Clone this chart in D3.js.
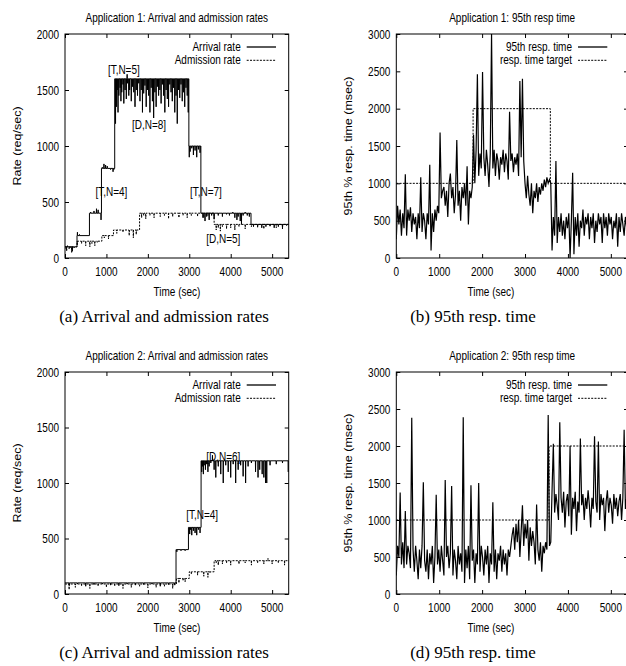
<!DOCTYPE html>
<html><head><meta charset="utf-8">
<script src="https://cdn.jsdelivr.net/npm/d3@7"></script>
<style>body{margin:0;background:#fff}svg{display:block}</style>
</head><body>
<svg id="chart" width="626" height="666"></svg>
<script>
// ---------- DATA ----------
const xTicks = [0, 1000, 2000, 3000, 4000, 5000];
const rateTicks = [0, 500, 1000, 1500, 2000];
const respTicks = [0, 500, 1000, 1500, 2000, 2500, 3000];
const timeEnd = 5400;

// App 1 arrival rate: step levels [time, rate] and short deviations [time, rate]
const app1ArrivalSteps = [[0,100],[290,200],[590,400],[880,800],[1200,1600],[2990,1000],[3280,400],[4490,300]];
const app1ArrivalDips = [
 [30,80],[60,110],[120,90],[180,60],[230,100],[300,230],[350,210],
 [620,410],[700,420],[760,440],[800,430],[850,400],[870,340],
 [900,810],[940,840],[980,830],[1020,820],[1100,790],[1160,770],[1180,790],
 [1220,1200],[1240,1350],[1260,1500],[1280,1300],[1300,1450],[1330,1520],[1350,1400],[1370,1480],[1400,1550],
 [1420,1380],[1450,1500],[1480,1420],[1500,1640],[1510,1560],[1540,1450],[1560,1500],[1600,1400],[1630,1530],
 [1660,1480],[1690,1350],[1720,1500],[1750,1450],[1780,1560],[1810,1400],[1840,1500],[1870,1300],[1900,1470],
 [1930,1540],[1960,1350],[1990,1500],[2020,1450],[2050,1300],[2080,1520],[2110,1400],[2140,1250],[2170,1480],
 [2200,1350],[2230,1530],[2260,1450],[2290,1500],[2320,1380],[2350,1550],[2380,1450],[2410,1300],[2440,1500],
 [2470,1420],[2500,1350],[2530,1550],[2560,1480],[2590,1400],[2620,1520],[2650,1300],[2680,1450],[2710,1200],
 [2740,1500],[2770,1430],[2800,1550],[2830,1400],[2860,1480],[2890,1350],[2920,1520],[2950,1450],[2975,1300],
 [3000,900],[3020,950],[3060,980],[3100,920],[3140,960],[3180,900],[3220,970],[3260,940],
 [3330,360],[3380,330],[3420,370],[3480,340],[3540,380],[3600,350],[3700,380],[3800,370],[3900,390],[3970,380],
 [4050,410],[4100,360],[4150,340],[4180,370],[4230,330],[4260,300],[4300,380],[4350,410],[4400,380],[4450,370],
 [4550,280],[4650,290],[4750,270],[4850,280],[4950,290],[5050,270],[5150,280],[5250,270],[5350,290]
];
const app1AdmissionSteps = [[0,100],[290,150],[890,200],[1170,250],[1800,400],[3600,300]];
const app1AdmissionDips = [
 [40,60],[100,80],[160,50],[220,90],
 [300,120],[400,130],[500,110],[600,100],[650,130],[720,110],[780,140],
 [950,180],[1050,170],
 [1250,220],[1400,230],[1550,200],[1650,180],[1720,210],
 [1850,360],[1900,380],[1950,350],[2050,380],[2150,360],[2300,370],[2400,380],[2500,350],[2600,370],
 [2750,360],[2850,380],[2950,360],[3050,380],[3200,370],[3350,360],[3450,380],
 [3650,250],[3700,270],[3750,240],[3800,280],[3900,260],[4000,270],[4100,250],[4200,280],[4350,260],
 [4500,280],[4650,270],[4800,260],[4950,280],[5100,270],[5250,260]
];

// App 1 95th percentile response time [time, msec]
const app1Resp = [
 [0,250],[30,700],[60,450],[90,650],[120,300],[150,600],[180,400],[210,1120],[240,300],[270,650],
 [300,500],[330,680],[360,350],[390,600],[420,450],[450,550],[480,250],[510,600],[540,400],[570,1080],
 [600,350],[630,600],[660,500],[690,250],[720,600],[750,450],[780,1250],[810,100],[840,600],[870,350],
 [900,650],[930,500],[960,700],[990,600],[1020,1680],[1050,800],[1080,900],[1110,950],[1140,700],[1170,900],
 [1200,550],[1230,1000],[1260,1130],[1290,800],[1320,950],[1350,600],[1380,850],[1410,1580],[1440,700],[1470,900],
 [1500,500],[1530,950],[1560,800],[1590,1000],[1620,700],[1650,1230],[1680,450],[1710,900],[1740,800],[1770,950],
 [1800,1650],[1830,1000],[1860,1450],[1890,2460],[1920,1100],[1950,1400],[1980,1200],[2010,2490],[2040,1350],[2070,1100],
 [2100,1450],[2130,1250],[2160,950],[2190,1400],[2220,3000],[2250,1200],[2280,1450],[2310,1100],[2340,1400],[2370,1300],
 [2400,1050],[2430,1350],[2460,1250],[2490,1450],[2520,1150],[2550,1400],[2580,1300],[2610,1050],[2640,1960],[2670,1300],
 [2700,1400],[2730,1150],[2760,1350],[2790,1250],[2820,1400],[2850,1100],[2880,2370],[2910,1350],[2940,2400],[2970,1300],
 [3000,1000],[3030,800],[3060,1100],[3090,850],[3120,700],[3150,1000],[3180,600],[3210,900],[3240,800],[3270,1000],
 [3300,750],[3330,950],[3360,850],[3390,1000],[3420,900],[3450,1050],[3480,950],[3510,1080],[3540,1000],[3570,1050],
 [3600,1000],[3630,100],[3660,550],[3690,300],[3720,1300],[3750,200],[3780,550],[3810,350],[3840,600],[3870,300],
 [3900,500],[3930,250],[3960,550],[3990,400],[4020,600],[4050,0],[4080,500],[4110,1140],[4140,50],[4170,550],
 [4200,300],[4230,600],[4260,150],[4290,500],[4320,400],[4350,650],[4380,300],[4410,550],[4440,450],[4470,600],
 [4500,250],[4530,550],[4560,400],[4590,600],[4620,200],[4650,500],[4680,350],[4710,600],[4740,450],[4770,550],
 [4800,200],[4830,600],[4860,400],[4890,550],[4920,300],[4950,600],[4980,450],[5010,550],[5040,250],[5070,500],
 [5100,400],[5130,600],[5160,150],[5190,550],[5220,350],[5250,600],[5280,450],[5310,300],[5340,550],[5370,400],[5400,500]
];
const app1TargetSteps = [[0,1000],[1790,2000],[3590,1000]];

// App 2 arrival / admission
const app2ArrivalSteps = [[0,100],[2680,400],[2980,600],[3285,1200]];
const app2ArrivalDips = [
 [100,80],[300,90],[500,70],[700,85],[900,90],[1100,80],[1300,75],[1500,90],[1700,80],[1900,85],[2100,90],[2300,70],[2500,85],[2650,80],
 [2700,380],[2800,390],[2900,390],
 [3010,540],[3030,580],[3060,530],[3100,570],[3140,550],[3180,530],[3220,580],[3260,550],
 [3300,1100],[3320,1150],[3340,1080],[3360,1160],[3390,1120],[3420,1170],[3450,1100],[3480,1150],[3520,1180],[3560,1250],
 [3600,1120],[3640,1050],[3700,1150],[3760,1080],[3820,1000],[3880,1160],[3940,1100],[4000,1050],[4060,1170],[4120,1000],
 [4180,1120],[4240,1160],[4300,1060],[4360,1000],[4420,1150],[4500,1180],[4600,1100],[4660,1050],[4700,1120],[4760,1080],
 [4800,1050],[4840,1000],[4870,1000],[4950,1160],[5100,1170],[5250,1180],[5390,1100]
];
const app2AdmissionSteps = [[0,90],[2690,140],[3000,200],[3600,300]];
const app2AdmissionDips = [
 [100,40],[250,60],[400,70],[600,50],[800,70],[1000,60],[1200,70],[1400,50],[1600,60],[1800,70],[2000,55],[2200,60],[2400,70],[2600,50],
 [2750,100],[2850,120],[2900,110],
 [3050,180],[3200,170],[3350,160],[3450,150],[3500,190],
 [3650,280],[3700,260],[3800,270],[3900,280],[4000,260],[4200,270],[4350,280],[4500,260],[4650,280],[4800,270],[4900,320],
 [5000,270],[5150,280],[5300,260]
];

// App 2 95th percentile response time [time, msec]
const app2Resp = [
 [0,250],[30,650],[60,500],[90,1370],[120,400],[150,700],[180,350],[210,1120],[240,400],[270,650],
 [300,550],[330,350],[360,2380],[390,600],[420,300],[450,650],[480,450],[510,200],[540,600],[570,350],
 [600,650],[630,1510],[660,450],[690,300],[720,600],[750,200],[780,550],[810,400],[840,650],[870,150],
 [900,500],[930,1340],[960,400],[990,600],[1020,300],[1050,650],[1080,450],[1110,250],[1140,1540],[1170,500],
 [1200,650],[1230,350],[1260,550],[1290,1460],[1320,250],[1350,600],[1380,450],[1410,200],[1440,650],[1470,400],
 [1500,550],[1530,300],[1560,2390],[1590,150],[1620,600],[1650,350],[1680,650],[1710,200],[1740,1470],[1770,450],
 [1800,600],[1830,150],[1860,550],[1890,400],[1920,1500],[1950,300],[1980,650],[2010,500],[2040,250],[2070,600],
 [2100,400],[2130,650],[2160,150],[2190,550],[2220,400],[2250,1240],[2280,300],[2310,600],[2340,200],[2370,550],
 [2400,450],[2430,650],[2460,300],[2490,600],[2520,400],[2550,550],[2580,250],[2610,600],[2640,500],[2670,650],
 [2700,800],[2730,900],[2760,600],[2790,950],[2820,700],[2850,1000],[2880,500],[2910,850],[2940,1200],[2970,650],
 [3000,950],[3030,750],[3060,1000],[3090,450],[3120,900],[3150,650],[3180,850],[3210,700],[3240,400],[3270,1210],
 [3300,600],[3330,450],[3360,700],[3390,300],[3420,650],[3450,550],[3480,700],[3510,600],[3540,2420],[3570,650],
 [3600,700],[3630,1400],[3660,2030],[3690,1100],[3720,1350],[3750,1200],[3780,1000],[3810,2320],[3840,1300],[3870,1100],
 [3900,1380],[3930,900],[3960,1250],[3990,1350],[4020,1050],[4050,2000],[4080,800],[4110,1300],[4140,1150],[4170,1380],
 [4200,850],[4230,1250],[4260,1100],[4290,2100],[4320,1200],[4350,1350],[4380,1000],[4410,1300],[4440,1150],[4470,1400],
 [4500,1200],[4530,900],[4560,1300],[4590,1150],[4620,2130],[4650,1250],[4680,1100],[4710,2060],[4740,1000],[4770,1350],
 [4800,1200],[4830,1300],[4860,850],[4890,1250],[4920,1400],[4950,1100],[4980,1300],[5010,1200],[5040,950],[5070,1350],
 [5100,1150],[5130,1300],[5160,1050],[5190,1250],[5220,1350],[5250,1000],[5280,1300],[5310,2220],[5340,1150],[5370,1300],[5400,1200]
];
const app2TargetSteps = [[0,1000],[3560,2000]];

// Labels
const titles = ["Application 1: Arrival and admission rates","Application 1: 95th resp time",
                "Application 2: Arrival and admission rates","Application 2: 95th resp time"];
const captions = ["(a) Arrival and admission rates","(b) 95th resp. time","(c) Arrival and admission rates","(d) 95th resp. time"];
const rateLegend = ["Arrival rate","Admission rate"];
const respLegend = ["95th resp. time","resp. time target"];
const app1Notes = [["[T,N=5]",1420,1645],["[D,N=8]",2030,1155],["[T,N=4]",1120,553],["[T,N=7]",3400,553],["[D,N=5]",3820,134]];
const app2Notes = [["[D,N=6]",3820,1195],["[T,N=4]",3310,674]];

// ---------- RENDER ----------
const sans = "'Liberation Sans', Arial, Helvetica, sans-serif";
const serif = "'Liberation Serif', 'Times New Roman', Times, serif";
const svg = d3.select("#chart");

function txt(g, x, y, s, o = {}) {
  const size = o.size || 12.5, sx = o.sx == null ? 0.8 : o.sx;
  return g.append("text")
    .attr("transform", `translate(${x},${y})` + (o.rot ? ` rotate(${o.rot}) scale(1,0.85)` : ` scale(${sx},1)`))
    .attr("text-anchor", o.anchor || "middle")
    .style("font-size", size + "px").style("font-family", o.family || sans)
    .attr("fill", "#000").text(s);
}

// build a polyline from step levels plus short deviations
function stepSeries(steps, dips, end) {
  const pts = [];
  steps.forEach((s, i) => {
    const t0 = s[0], v = s[1], t1 = i + 1 < steps.length ? steps[i + 1][0] : end;
    pts.push([t0, v]);
    dips.filter(d => d[0] >= t0 && d[0] < t1).forEach(d => {
      pts.push([d[0] - 4, v], [d[0], d[1]], [d[0] + 4, v]);
    });
    pts.push([t1, v]);
  });
  return pts;
}
function targetSeries(steps, end) {
  const pts = [];
  steps.forEach((s, i) => {
    const t1 = i + 1 < steps.length ? steps[i + 1][0] : end;
    pts.push([s[0], s[1]], [t1, s[1]]);
  });
  return pts;
}

let clipId = 0;
function panel(box, yMax, yTicks, series, title, yLabel, legend, notes, caption, xLabelX, capX, capY) {
  const x = d3.scaleLinear().domain([0, timeEnd]).range([box.l, box.r]);
  const y = d3.scaleLinear().domain([0, yMax]).range([box.b, box.t]);
  const g = svg.append("g");
  const id = "clip" + (clipId++);
  svg.append("clipPath").attr("id", id).append("rect")
    .attr("x", box.l).attr("y", box.t - 1).attr("width", box.r - box.l).attr("height", box.b - box.t + 1);

  // ticks on four sides (inward)
  const tk = 4;
  g.append("g").attr("transform", `translate(${box.l},0)`).call(d3.axisLeft(y).tickValues(yTicks).tickSize(-tk).tickFormat(""));
  g.append("g").attr("transform", `translate(${box.r},0)`).call(d3.axisRight(y).tickValues(yTicks).tickSize(-tk).tickFormat(""));
  g.append("g").attr("transform", `translate(0,${box.b})`).call(d3.axisBottom(x).tickValues(xTicks).tickSize(-tk).tickFormat(""));
  g.append("g").attr("transform", `translate(0,${box.t})`).call(d3.axisTop(x).tickValues(xTicks).tickSize(-tk).tickFormat(""));
  g.selectAll(".domain").remove();
  g.selectAll(".tick line").attr("stroke", "#000").attr("stroke-width", 1);

  // lines
  const line = d3.line().x(d => x(d[0])).y(d => y(d[1]));
  const lg = g.append("g").attr("clip-path", `url(#${id})`);
  series.forEach(s => {
    lg.append("path").attr("d", line(s.pts)).attr("fill", "none").attr("stroke", "#000")
      .attr("stroke-width", s.w).attr("stroke-dasharray", s.dash || null).attr("stroke-linejoin", "miter");
  });

  // border
  g.append("rect").attr("x", box.l).attr("y", box.t).attr("width", box.r - box.l).attr("height", box.b - box.t)
    .attr("fill", "none").attr("stroke", "#000").attr("stroke-width", 1);

  // tick labels
  yTicks.forEach(v => txt(g, box.l - 6, y(v) + 4.5, String(v), { anchor: "end" }));
  xTicks.forEach(v => txt(g, x(v), box.b + 18, String(v)));

  // title, axis labels
  txt(g, (box.l + box.r) / 2, box.t - 12.5, title);
  txt(g, box.l - 44, (box.t + box.b) / 2, yLabel, { rot: -90 });
  txt(g, xLabelX, box.b + 38, "Time (sec)");

  // legend
  legend.forEach((lab, i) => {
    const ly = box.t + 13 + i * 13.3;
    txt(g, box.l + 175.7, ly + 4, lab, { anchor: "end" });
    g.append("line").attr("x1", box.l + 181.7).attr("x2", box.l + 211).attr("y1", ly).attr("y2", ly)
      .attr("stroke", "#000").attr("stroke-width", i === 0 ? 1.3 : 1).attr("stroke-dasharray", i === 0 ? null : "2,1.3");
  });

  // annotations
  notes.forEach(n => txt(g, x(n[1]), y(n[2]), n[0]));

  // caption
  txt(svg, capX, capY, caption, { family: serif, size: 17, sx: 1 });
}

const A = { l: 65, r: 288.7, t: 34, b: 258 };
const B = { l: 396.3, r: 628, t: 34, b: 258 };
const C = { l: 65, r: 288.7, t: 372, b: 594 };
const D = { l: 396.3, r: 628, t: 372, b: 594 };

panel(A, 2000, rateTicks, [
  { pts: stepSeries(app1ArrivalSteps, app1ArrivalDips, timeEnd), w: 1 },
  { pts: stepSeries(app1AdmissionSteps, app1AdmissionDips, timeEnd), w: 1, dash: "2,1.3" }
], titles[0], "Rate (req/sec)", rateLegend, app1Notes, captions[0], 177, 164, 322);

panel(B, 3000, respTicks, [
  { pts: app1Resp, w: 1.2 },
  { pts: targetSeries(app1TargetSteps, timeEnd), w: 1, dash: "2,1.3" }
], titles[1], "95th % resp. time (msec)", respLegend, [], captions[1], 491, 473, 322);

panel(C, 2000, rateTicks, [
  { pts: stepSeries(app2ArrivalSteps, app2ArrivalDips, timeEnd), w: 1 },
  { pts: stepSeries(app2AdmissionSteps, app2AdmissionDips, timeEnd), w: 1, dash: "2,1.3" }
], titles[2], "Rate (req/sec)", rateLegend, app2Notes, captions[2], 177, 164, 658);

panel(D, 3000, respTicks, [
  { pts: app2Resp, w: 1.2 },
  { pts: targetSeries(app2TargetSteps, timeEnd), w: 1, dash: "2,1.3" }
], titles[3], "95th % resp. time (msec)", respLegend, [], captions[3], 491, 473, 658);
</script>
</body></html>
